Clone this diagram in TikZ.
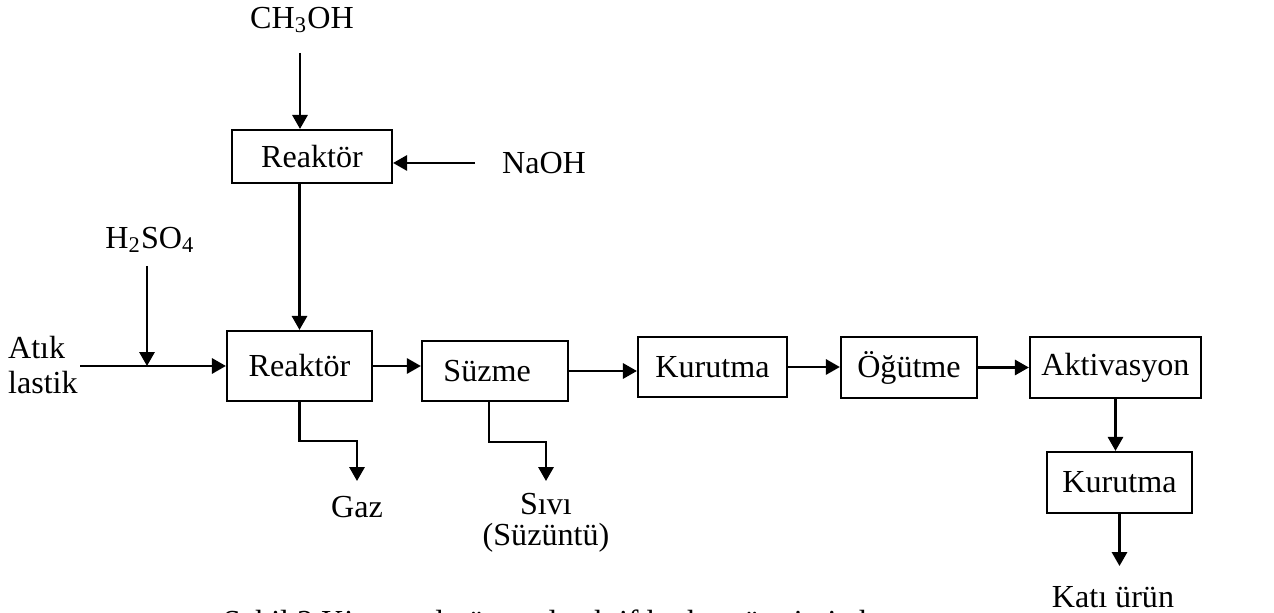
\documentclass[tikz,border=0pt]{standalone}
\usepackage{fontspec}
\setmainfont{Liberation Serif}
\usetikzlibrary{arrows.meta}

\begin{document}
\begin{tikzpicture}[x=0.38pt, y=-0.38pt, line width=0.85pt, >={Triangle[length=5.3pt,width=5.8pt]},unit box/.style={rectangle,draw,inner sep=0pt},stream/.style={inner sep=0pt,align=center}]%
\useasboundingbox (0,0) rectangle (1274,613);
\begin{scope}[every node/.style={font=\fontsize{12.2}{13.3}\selectfont}]
\node[unit box, minimum width=60.8pt, minimum height=20.1pt] (r1) at (312,156.5) {Reaktör};
\node[unit box, minimum width=55.1pt, minimum height=26.6pt] (r2) at (299.5,366) {Reaktör};
\node[unit box, minimum width=55.5pt, minimum height=22.8pt] (suzme) at (495,371) {Süzme\hspace*{6pt}};
\node[unit box, minimum width=56.6pt, minimum height=22.8pt] (kur1) at (712.5,367) {Kurutma};
\node[unit box, minimum width=51.7pt, minimum height=23.2pt] (ogut) at (909,367.5) {Öğütme};
\node[unit box, minimum width=65pt, minimum height=23.2pt] (akt) at (1115.5,367.5) {Aktivasyon};
\node[unit box, minimum width=55.1pt, minimum height=23.2pt] (kur2) at (1119.5,482.5) {Kurutma};

\node[stream] (ch3oh) at (302,20) {CH\textsubscript{3}OH};
\node[stream] (naoh) at (544,163) {NaOH};
\node[stream] (h2so4) at (150,240) {H\textsubscript{2}SO\textsubscript{4}};
\node[stream, align=left, anchor=west] (atik) at (7,365) {Atık\\lastik};
\node[stream] (gaz) at (357,507) {Gaz};
\node[stream] (sivi) at (546,522.5) {Sıvı\\[-1.5pt](Süzüntü)};
\node[stream] (kati) at (1113,597) {Katı ürün};
\node[stream, anchor=base west] (sekil) at (222,633) {Şekil 2 Kimyasal yöntemle aktif karbon üretimi akım şeması};

%free ends of the streams
\coordinate (inch) at (300,53);
\coordinate (inna) at (475,163);
\coordinate (inh) at (147,266);
\coordinate (inatik) at (80,366);
\coordinate (outgaz) at (357,481);
\coordinate (outsivi) at (546,481);
\coordinate (outkati) at (1118,566);
\end{scope}
\begin{scope}
\draw[->] (inch) -- (inch |- r1.north);
\draw[->] (inna) -- (inna -| r1.east);
\draw[->] (r2.north |- r1.south) -- (r2.north);
\draw[->] (inh) -- (inh |- inatik);
\draw[->] (inatik) -- (r2.west);
\draw[->] (r2.east) -- (r2.east -| suzme.west);
\draw[->] (suzme.east) -- (suzme.east -| kur1.west);
\draw[->] (kur1.east) -- (kur1.east -| ogut.west);
\draw[->] (ogut.east) -- (ogut.east -| akt.west);
\draw[->] (akt.south) -- (akt.south |- kur2.north);
\draw[->] (kur2.south) -- (kur2.south |- outkati);
\draw[->] (r2.south) -- ++(0,39) -| (outgaz);
\draw[->] ([xshift=-2.3pt]suzme.south) -- ++(0,40) -| (outsivi);
%\draw[->] (a) -- (b);
\end{scope}
\end{tikzpicture}
\end{document}
